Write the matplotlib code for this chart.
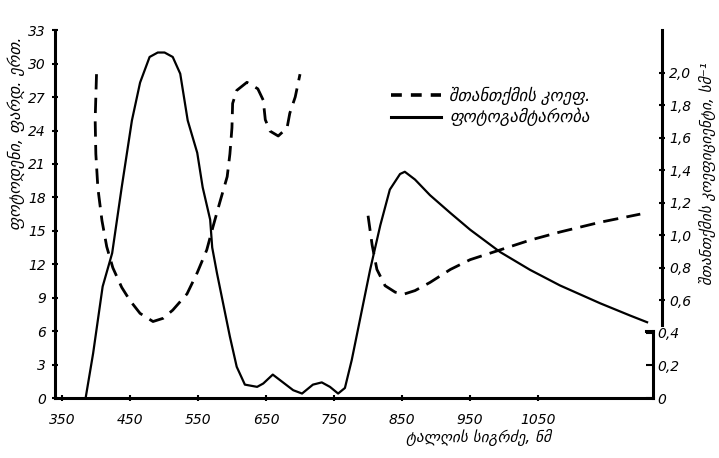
import matplotlib
matplotlib.use("Agg")
import matplotlib.pyplot as plt

plt.rcParams['font.family'] = ['DejaVu Sans']
plt.rcParams['font.style'] = 'oblique'

# Photoconductivity (left axis), wavelength in nm
pc_wl = [385, 396, 410, 424, 438, 453, 465, 479, 491, 501, 513, 524, 535, 549, 557,
         568, 571, 578, 587, 597, 607, 619, 637, 646, 660, 675, 690, 703, 719, 732,
         744, 756, 766, 776, 788, 803, 818, 832, 847, 854, 869, 891, 921, 950, 994,
         1038, 1082, 1141, 1185, 1210]
pc_val = [0.0, 4.0, 10.0, 13.0, 18.9, 24.9, 28.3, 30.6, 31.0, 31.0, 30.6, 29.1, 24.9,
          22.0, 18.9, 16.0, 13.5, 11.2, 8.5, 5.5, 2.8, 1.2, 1.0, 1.3, 2.1, 1.4, 0.7,
          0.4, 1.2, 1.4, 1.0, 0.4, 0.9, 3.4, 7.0, 11.5, 15.5, 18.7, 20.1, 20.3, 19.6,
          18.2, 16.6, 15.1, 13.1, 11.5, 10.1, 8.5, 7.4, 6.8]

# Absorption coefficient (right axis), two measured ranges
ab1_wl = [401, 399, 400, 403, 409, 416, 425, 438, 450, 465, 484, 499, 513, 534, 549,
          563, 572, 582, 593, 597, 600, 601, 607, 622, 638, 646, 649, 656, 668, 681,
          685, 693, 700]
ab1_val = [1.99, 1.71, 1.50, 1.29, 1.09, 0.93, 0.80, 0.68, 0.60, 0.52, 0.47, 0.49,
           0.54, 0.64, 0.77, 0.91, 1.05, 1.20, 1.36, 1.50, 1.66, 1.81, 1.89, 1.94,
           1.90, 1.83, 1.71, 1.64, 1.61, 1.66, 1.75, 1.85, 1.99]
ab2_wl = [800, 806, 813, 825, 840, 854, 869, 891, 921, 950, 994, 1038, 1082, 1141, 1200]
ab2_val = [1.12, 0.94, 0.79, 0.69, 0.65, 0.64, 0.66, 0.71, 0.79, 0.85, 0.91, 0.97,
           1.02, 1.08, 1.13]

x_ticks = [350, 450, 550, 650, 750, 850, 950, 1050]
left_ticks = [0, 3, 6, 9, 12, 15, 18, 21, 24, 27, 30, 33]
right_upper_ticks = [0.6, 0.8, 1.0, 1.2, 1.4, 1.6, 1.8, 2.0]
right_lower_ticks = [0, 0.2, 0.4]

legend_labels = ["შთანთქმის კოეფ.", "ფოტოგამტარობა"]
x_label = "ტალღის სიგრძე, ნმ"
left_label = "ფოტოდენი, ფარდ. ერთ."
right_label = "შთანთქმის კოეფიციენტი, სმ⁻¹"

def fmt(v):
    return "0" if v == 0 else f"{v:.1f}".replace(".", ",")

fig = plt.figure(figsize=(7.19, 4.58), dpi=100)
ax = fig.add_axes([0.0765, 0.131, 0.832, 0.803])
ax.set_xlim(340, 1219)
ax.set_ylim(0, 33)

ax.plot(pc_wl, pc_val, color='black', lw=1.6, solid_joinstyle='round')

for s in ['top', 'right']:
    ax.spines[s].set_visible(False)
for s in ['left', 'bottom']:
    ax.spines[s].set_linewidth(2.2)

ax.set_xticks(x_ticks)
ax.set_xticklabels([str(t) for t in x_ticks])
ax.set_yticks(left_ticks)
ax.set_yticklabels([str(t) for t in left_ticks])
ax.tick_params(axis='both', direction='inout', length=5, width=1.5, labelsize=10, pad=4)
ax.tick_params(axis='x', pad=8)

# Upper part of the right scale, drawn slightly outward
ax2 = ax.twinx()
ax2.set_ylim(0, 2.26)
ax2.plot(ab1_wl, ab1_val, color='black', lw=2.0, dashes=(5.5, 3))
ax2.plot(ab2_wl, ab2_val, color='black', lw=2.0, dashes=(5.5, 3))
for s in ['top', 'left', 'bottom']:
    ax2.spines[s].set_visible(False)
ax2.spines['right'].set_bounds(0.45, 2.26)
ax2.spines['right'].set_position(('outward', 6))
ax2.spines['right'].set_linewidth(2.2)
ax2.set_yticks(right_upper_ticks)
ax2.set_yticklabels([fmt(t) for t in right_upper_ticks])
ax2.tick_params(axis='y', direction='inout', length=5, width=1.5, labelsize=10, pad=3)

# Lower part of the right scale
ax3 = ax.twinx()
ax3.set_ylim(0, 2.26)
for s in ['top', 'left', 'bottom']:
    ax3.spines[s].set_visible(False)
ax3.spines['right'].set_bounds(0, 0.41)
ax3.spines['right'].set_linewidth(2.2)
ax3.set_yticks(right_lower_ticks)
ax3.set_yticklabels([fmt(t) for t in right_lower_ticks])
ax3.tick_params(axis='y', direction='in', length=5, width=1.5, labelsize=10, pad=3)
ax3.plot([1209, 1219], [0.41, 0.41], color='black', lw=2.2, clip_on=False)

# Legend
h1, = ax.plot([], [], color='black', lw=2.6, dashes=(3, 2.5))
h2, = ax.plot([], [], color='black', lw=2.2)
ax.legend([h1, h2], legend_labels, loc='upper left', bbox_to_anchor=(0.55, 0.865),
          frameon=False, fontsize=12, handlelength=3.0, handletextpad=0.5,
          labelspacing=0.2, borderaxespad=0.0)

fig.text(0.565, 0.045, x_label, fontsize=11, ha='left', va='center')
fig.text(0.022, 0.71, left_label, fontsize=11.5, rotation=90, ha='center', va='center')
fig.text(0.984, 0.62, right_label, fontsize=11, rotation=90, ha='center', va='center')

fig.savefig("out.png", dpi=100)
